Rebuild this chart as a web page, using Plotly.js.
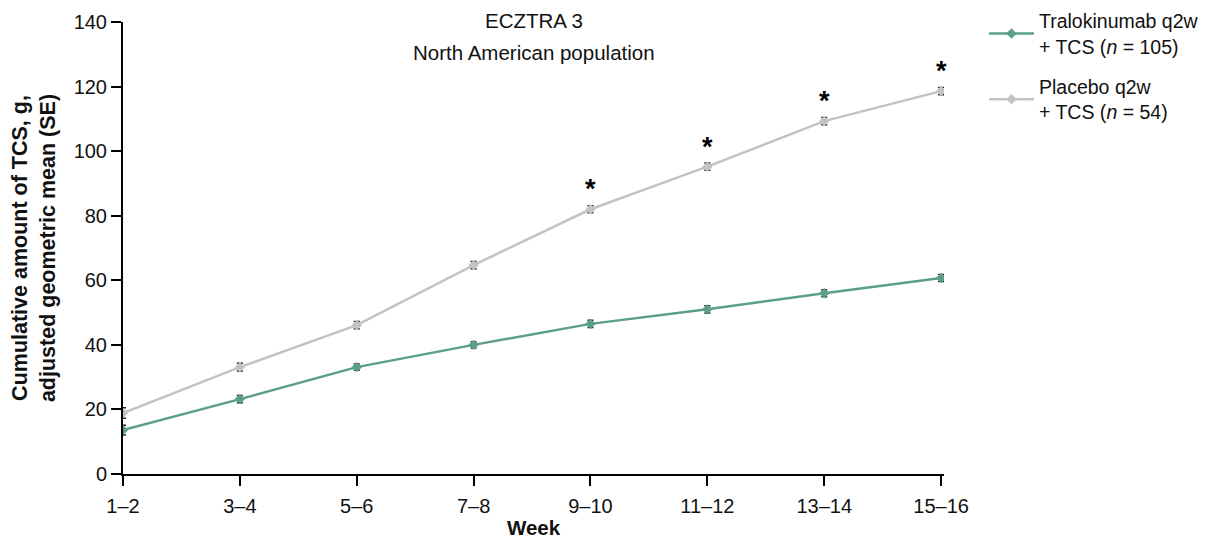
<!DOCTYPE html>
<html><head><meta charset="utf-8">
<script src="https://cdn.plot.ly/plotly-3.0.1.min.js"></script>
<style>body{margin:0;background:#fff}#c{width:1207px;height:539px}</style>
</head><body><div id="c"></div>
<script>
const weeks = ["1–2","3–4","5–6","7–8","9–10","11–12","13–14","15–16"];
const tralo = [13.6, 23.2, 33.1, 40.0, 46.5, 51.0, 56.0, 60.7];
const traloSE = [1.5, 1.1, 1.0, 1.0, 1.1, 1.1, 1.1, 1.1];
const placebo = [18.9, 33.1, 46.1, 64.7, 82.0, 95.2, 109.3, 118.6];
const placeboSE = [1.6, 1.2, 1.1, 1.1, 1.1, 1.1, 1.1, 1.1];
const sig = [false, false, false, false, true, true, true, true];

const font = "Liberation Sans, Arial, sans-serif";
const green = "#5b9f89", grey = "#c3c3c3";

const traces = [
 {x: weeks, y: tralo, type:"scatter", mode:"lines+markers", legendgroup:"a",
  name:"Tralokinumab q2w<br>+ TCS (<i>n</i> = 105)",
  line:{color:green, width:2.5}, marker:{symbol:"diamond", size:8, color:green},
  error_y:{type:"data", array:traloSE, color:"#222", thickness:1.5, width:3}},
 {x: weeks, y: placebo, type:"scatter", mode:"lines+markers", legendgroup:"b",
  name:"Placebo q2w<br>+ TCS (<i>n</i> = 54)",
  line:{color:grey, width:2.5}, marker:{symbol:"diamond", size:8, color:grey},
  error_y:{type:"data", array:placeboSE, color:"#222", thickness:1.5, width:3}}
];

const annotations = [
 {text:"ECZTRA 3", xref:"paper", yref:"paper", x:0.5, y:(474-20)/452, yanchor:"middle", showarrow:false, font:{size:20.5, color:"#111", family:font}},
 {text:"North American population", xref:"paper", yref:"paper", x:0.5, y:(474-52)/452, yanchor:"middle", showarrow:false, font:{size:20.5, color:"#111", family:font}}
];
weeks.forEach((w,i)=>{ if(sig[i]) annotations.push({text:"<b>*</b>", x:w, y:placebo[i], yshift:20, showarrow:false, font:{size:27, color:"#000", family:font}}); });

const layout = {
 width:1207, height:539,
 margin:{l:123, r:263, t:22, b:65, autoexpand:false},
 paper_bgcolor:"#fff", plot_bgcolor:"#fff",
 font:{family:font, size:20, color:"#111"},
 showlegend:true,
 legend:{x:(984-123)/821, y:1.045, xanchor:"left", yanchor:"top", font:{size:19.5, family:font}, tracegroupgap:12, itemwidth:45, bgcolor:"rgba(0,0,0,0)"},
 xaxis:{type:"category", range:[0, 7.025], showline:true, linecolor:"#000", linewidth:2,
   ticks:"outside", ticklen:10, tickwidth:2, tickcolor:"#000", showgrid:false, zeroline:false,
   ticklabelstandoff:3,
   tickfont:{size:20}, title:{text:"<b>Week</b>", font:{size:20.5}, standoff:10}},
 yaxis:{range:[0,140], dtick:20, showline:true, linecolor:"#000", linewidth:2,
   ticks:"outside", ticklen:10, tickwidth:2, tickcolor:"#000", showgrid:false, zeroline:false,
   tickfont:{size:20},
   title:{text:"<b>Cumulative amount of TCS, g,<br>adjusted geometric mean (SE)</b>", font:{size:21.5}, standoff:12}},
 annotations:annotations
};
Plotly.newPlot("c", traces, layout, {displayModeBar:false});
</script></body></html>
